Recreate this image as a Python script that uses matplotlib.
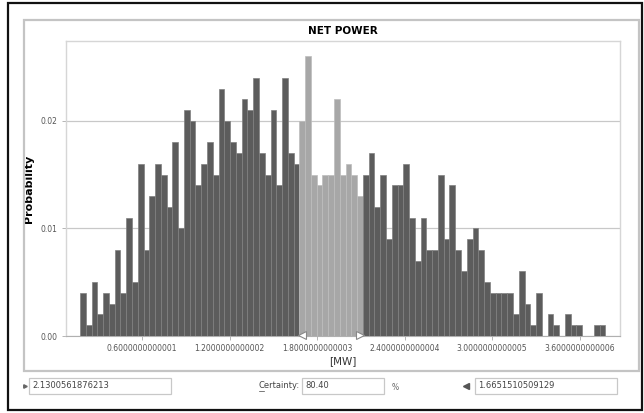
import numpy as np
import matplotlib
matplotlib.use("Agg")
import matplotlib.pyplot as plt
from matplotlib.patches import Rectangle

# histogram of NET POWER, probability per bin (counts out of 1000 trials)
counts = [4, 1, 5, 2, 4, 3, 8, 4, 11, 5,
          16, 8, 13, 16, 15, 12, 18, 10, 21, 20,
          14, 16, 18, 15, 23, 20, 18, 17, 22, 21,
          24, 17, 15, 21, 14, 24, 17, 16,
          20, 26, 15, 14, 15, 15, 22, 15, 16, 15, 13,
          15, 17, 12, 15, 9, 14, 14, 16, 11, 7,
          11, 8, 8, 15, 9, 14, 8, 6, 9, 10,
          8, 5, 4, 4, 4, 4, 2, 6, 3, 1, 4,
          0, 2, 1, 0, 2, 1, 1, 0, 0, 1, 1]
trials = 1000
bin_start = 0.173
bin_width = 0.0396
# bins inside the certainty range (light grey)
cert_first, cert_last = 38, 48

tick_vals = [0.6, 1.2, 1.8, 2.4, 3.0, 3.6]
tick_labels = ["0.6000000000001", "1.2000000000002", "1.8000000000003",
               "2.4000000000004", "3.0000000000005", "3.6000000000006"]
ytick_vals = [0.0, 0.01, 0.02]
ytick_labels = ["0.00", "0.01", "0.02"]

left_value = "2.1300561876213"
certainty = "80.40"
right_value = "1.6651510509129"

W, H = 644, 413
fig = plt.figure(figsize=(W / 100, H / 100), dpi=100)
fig.patch.set_facecolor("white")


def fx(x):
    return x / W


def fy(y):
    return 1 - y / H


def frame(x0, y0, x1, y1, color, lw):
    r = Rectangle((fx(x0), fy(y1)), fx(x1) - fx(x0), fy(y0) - fy(y1),
                  transform=fig.transFigure, fill=False, edgecolor=color,
                  linewidth=lw)
    fig.add_artist(r)


# outer frames
frame(8, 3, 642, 410, "#111111", 1.6)
frame(24, 20, 639, 371, "#c4c4c4", 1.6)

ax = fig.add_axes([fx(66), fy(336), fx(620) - fx(66), fy(41) - fy(336)])

probs = np.array(counts) / trials
lefts = bin_start + bin_width * np.arange(len(counts))
colors = ["#a7a7a7" if cert_first <= i <= cert_last else "#5c5c5c"
          for i in range(len(counts))]
edges = ["#bdbdbd" if cert_first <= i <= cert_last else "#808080"
         for i in range(len(counts))]
ax.bar(lefts, probs, width=bin_width, align="edge", color=colors,
       edgecolor=edges, linewidth=0.5, zorder=3)

ax.set_xlim(0.077, 3.877)
ax.set_ylim(0, 0.02744)

ax.set_yticks(ytick_vals)
ax.set_yticklabels(ytick_labels)
ax.set_xticks(tick_vals)
ax.set_xticklabels(tick_labels)
ax.tick_params(axis="both", labelsize=5.5, labelcolor="#555555",
               color="#aaaaaa", length=3, width=0.6, pad=3)
ax.grid(axis="y", color="#c8c8c8", linewidth=0.9, zorder=0)

for side in ["left", "top", "right"]:
    ax.spines[side].set_color("#d6d6d6")
    ax.spines[side].set_linewidth(1.0)
ax.spines["bottom"].set_color("#b0b0b0")
ax.spines["bottom"].set_linewidth(0.8)

ax.set_title("NET POWER", fontsize=7.5, fontweight="bold", pad=5)
ax.set_ylabel("Probability", fontsize=8, fontweight="bold")
ax.yaxis.set_label_coords(-0.058, 0.5)
ax.set_xlabel("[MW]", fontsize=7.5, color="#333333", labelpad=2)

# certainty grabbers
lo = lefts[cert_first]
hi = lefts[cert_last] + bin_width
ax.plot([lo + 0.018], [0.0001], marker="<", markersize=6,
        markerfacecolor="white", markeredgecolor="#888888",
        markeredgewidth=0.8, clip_on=False, zorder=5)
ax.plot([hi - 0.018], [0.0001], marker=">", markersize=6,
        markerfacecolor="white", markeredgecolor="#888888",
        markeredgewidth=0.8, clip_on=False, zorder=5)

# text boxes under the chart
frame(29, 378, 171, 394, "#c8c8c8", 0.9)
frame(302, 378, 384, 394, "#c8c8c8", 0.9)
frame(475, 378, 617, 394, "#c8c8c8", 0.9)

tk = dict(fontsize=6, color="#444444", va="center")
fig.text(fx(32), fy(386), left_value, ha="left", **tk)
fig.text(fx(300), fy(386), "Certainty:", ha="right", **tk)
fig.text(fx(305), fy(386), certainty, ha="left", **tk)
fig.text(fx(392), fy(387), "%", ha="left", fontsize=5.5, color="#666666",
         va="center")
fig.text(fx(478), fy(386), right_value, ha="left", **tk)
fig.add_artist(plt.Line2D([fx(259), fx(264)], [fy(391), fy(391)],
                          transform=fig.transFigure, color="#444444",
                          linewidth=0.5))
fig.add_artist(plt.Line2D([fx(25)], [fy(386)], transform=fig.transFigure,
                          marker=">", markersize=2.5, color="#666666",
                          linestyle="none"))
fig.add_artist(plt.Line2D([fx(466)], [fy(386)], transform=fig.transFigure,
                          marker="<", markersize=5, color="#555555",
                          linestyle="none"))

fig.savefig("out.png", dpi=100)
